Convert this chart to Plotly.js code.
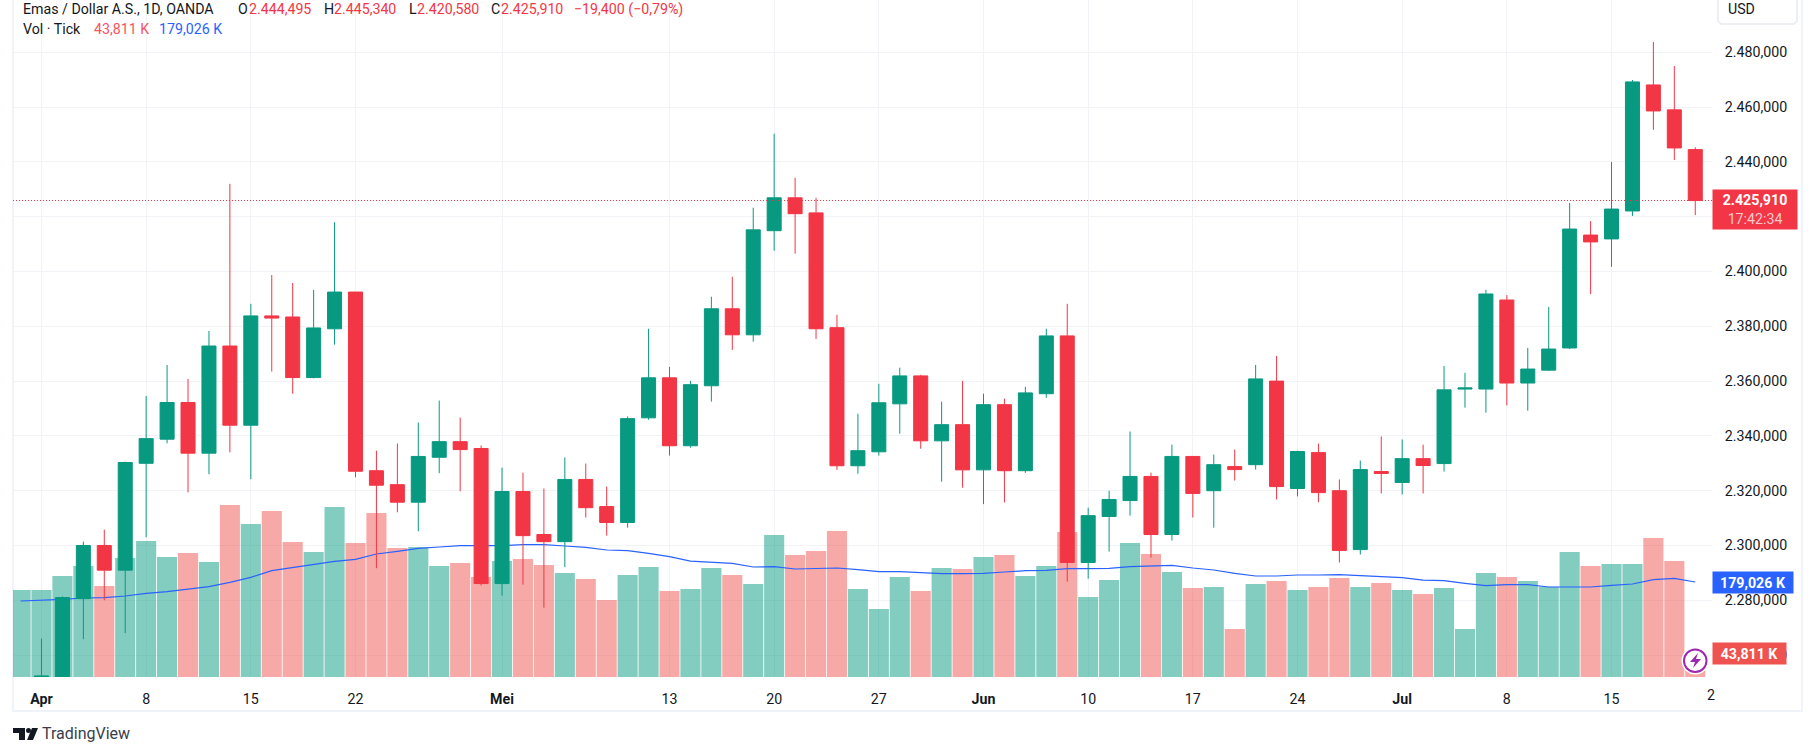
<!DOCTYPE html>
<html>
<head>
<meta charset="utf-8">
<script src="https://cdn.plot.ly/plotly-3.0.1.min.js"></script>
<style>
  html, body { margin: 0; padding: 0; background: #fff; }
  #chart { width: 1815px; height: 756px; }
</style>
</head>
<body>
<div id="chart"></div>
<script>
// one entry per trading day, the first one is the off-screen 29 Mar candle
var opens = [2212, 2232, 2250, 2280.6, 2300, 2291, 2330, 2338.8, 2352.2, 2333.7, 2372.8, 2343.9, 2383.8, 2383.4, 2361.3, 2379.1, 2392.5, 2327.3, 2322.2, 2315.8, 2332.2, 2337.9, 2335.4, 2286.1, 2319.7, 2304, 2301.4, 2324.1, 2314.2, 2308.4, 2346.6, 2361.2, 2336.4, 2358.3, 2386.4, 2376.9, 2414.9, 2426.9, 2421.4, 2379.5, 2329.1, 2334.2, 2351.7, 2361.9, 2338.2, 2344.1, 2327.6, 2351.4, 2327.3, 2355.4, 2376.5, 2293.8, 2310.6, 2316.4, 2325.2, 2304, 2332.5, 2320, 2328.8, 2329.5, 2360, 2320.8, 2333.9, 2320, 2298.5, 2327, 2323, 2331.7, 2329.9, 2357.1, 2357.1, 2389.6, 2359.3, 2364, 2372.1, 2413.3, 2411.9, 2422.1, 2468.1, 2459, 2444.495];
var highs = [2233, 2266, 2281.4, 2301.4, 2305.8, 2330.6, 2354.6, 2365.9, 2360.8, 2378.3, 2432, 2388.2, 2398.7, 2395.8, 2393.3, 2418, 2392.5, 2334.6, 2337.2, 2344.9, 2352.9, 2346.7, 2336.5, 2328.4, 2326.6, 2320.8, 2332.1, 2329.9, 2321.5, 2347.1, 2379.1, 2365.2, 2360.1, 2390.8, 2398.1, 2423.3, 2450.3, 2434.2, 2426.9, 2384.2, 2348.1, 2359, 2364.9, 2362.3, 2352.5, 2360.1, 2355.4, 2353.6, 2357.9, 2379.1, 2388.2, 2313.8, 2320, 2341.6, 2326.6, 2336.8, 2332.5, 2333.2, 2335, 2365.9, 2369.2, 2334.6, 2337.2, 2324.1, 2331, 2339.8, 2338.7, 2336.8, 2365.5, 2363, 2393.3, 2391.4, 2372.1, 2387.1, 2425, 2418.4, 2440, 2469.9, 2483.8, 2475, 2445.34];
var lows = [2208, 2228, 2245, 2265.8, 2280, 2268, 2303, 2337.3, 2319.4, 2326, 2334, 2324.2, 2363.5, 2355.4, 2361, 2373.3, 2324.9, 2291.7, 2312.1, 2305.2, 2326.4, 2319.8, 2285.4, 2281.7, 2285.7, 2277.3, 2292.1, 2310.2, 2303.6, 2306.5, 2345.9, 2332.8, 2335.7, 2352.5, 2371.4, 2374.4, 2407.6, 2406.5, 2375.4, 2327.6, 2326.2, 2332.8, 2340.8, 2335.3, 2323.3, 2321.1, 2315.1, 2315.7, 2326.5, 2353.9, 2286.8, 2287.9, 2297.8, 2310.9, 2295.6, 2301.8, 2310.2, 2306.5, 2323.7, 2327.7, 2316.8, 2317.9, 2315.8, 2293.8, 2296.7, 2319, 2318.6, 2319, 2327, 2350.3, 2348.5, 2351.1, 2349.2, 2363.7, 2371.7, 2391.8, 2401.7, 2420.3, 2451.7, 2440.7, 2420.58];
var closes = [2232, 2252.4, 2281, 2300, 2291, 2330.3, 2339, 2352.2, 2333.7, 2372.8, 2343.9, 2383.8, 2383, 2361.3, 2379.4, 2392.5, 2327.1, 2322, 2315.8, 2332.5, 2337.9, 2335, 2286.1, 2319.7, 2303.6, 2301.4, 2324.1, 2313.8, 2308.4, 2346.3, 2361.2, 2336.4, 2358.7, 2386.4, 2376.9, 2415.2, 2426.9, 2421.1, 2379.1, 2329.1, 2334.6, 2352.1, 2361.9, 2338.2, 2344.1, 2327.6, 2351.4, 2327.3, 2355.7, 2376.5, 2293.8, 2310.9, 2316.8, 2325.2, 2304, 2332.5, 2319, 2329.5, 2327.7, 2360.8, 2321.5, 2334.3, 2319.3, 2298.2, 2327.7, 2326.3, 2331.7, 2329.2, 2356.8, 2357.5, 2391.8, 2359.3, 2364.4, 2371.7, 2415.5, 2410.8, 2422.8, 2469.2, 2458.6, 2445.1, 2425.91];

// tick volume in thousands and its moving average
var volumes = [163.9, 163.9, 190.3, 209.1, 171.4, 224.2, 256.2, 226.1, 233.6, 216.7, 324, 288.3, 312.7, 254.3, 235.5, 320.3, 252.5, 309, 243, 244.9, 209.1, 214.8, 188.4, 218.5, 222.3, 211, 195.9, 184.6, 145.1, 192.2, 207.2, 162, 165.8, 205.4, 192.2, 175.2, 267.5, 229.8, 237.4, 275.1, 165.8, 128.1, 188.4, 162, 205.4, 203.5, 226.1, 229.8, 190.3, 209.1, 273.2, 150.7, 182.7, 252.5, 231.7, 197.8, 167.7, 169.6, 90.4, 175.2, 180.9, 163.9, 169.6, 186.5, 169.6, 177.1, 163.9, 156.4, 167.7, 90.4, 195.9, 188.4, 180.9, 170, 235.5, 209.1, 212.9, 212.9, 261.9, 218.5, 43.811];
var volMa = [143.2, 144.4, 146.3, 148.8, 149.5, 152.6, 157.6, 160.8, 165.8, 170.2, 178.4, 187.8, 200.3, 206.6, 212.3, 217.9, 221.7, 231.7, 236.8, 242.4, 244.9, 247.4, 247.4, 247.4, 249.3, 249.3, 246.8, 244.3, 239.3, 238, 233, 226.7, 218.5, 216.7, 214.1, 207.2, 207.9, 203.5, 204.1, 205.4, 202.2, 198.4, 198.4, 195.9, 194.7, 194.7, 195.3, 197.8, 200.3, 201, 204.1, 204.1, 204.7, 207.9, 209.8, 210.4, 205.4, 201.6, 195.3, 190.3, 190.3, 192.2, 192.2, 192.8, 190.9, 189.7, 187.1, 182.7, 181.5, 176.5, 172.1, 174, 174, 169.6, 169.6, 169.6, 172.7, 175.2, 183.4, 185.9, 179.026];

var dayIndex = opens.map(function(_, i) { return i; });
var tickDays = [1, 6, 11, 16, 23, 31, 36, 41, 46, 51, 56, 61, 66, 71, 76];
var tickNames = ['<b>Apr</b>', '8', '15', '22', '<b>Mei</b>', '13', '20', '27', '<b>Jun</b>', '10', '17', '24', '<b>Jul</b>', '8', '15'];

var UP = '#089981', DOWN = '#F23645', BLUE = '#2962FF', TEXT = '#131722', GRID = '#F2F3F7';
var FONT = 'Roboto, sans-serif';
var FONT_SIZE = 14.2;

// plot box in page pixels, used for everything drawn around the chart
var L = 13, R = 1712, T = 0, B = 677;
function px(x) { return (x - L) / (R - L); }
function py(y) { return (B - y) / (B - T); }

var volColors = opens.map(function(o, i) {
    return closes[i] >= o ? 'rgba(8,153,129,0.5)' : 'rgba(239,83,80,0.5)';
});

var traces = [
    {
        type: 'bar', x: dayIndex, y: volumes, yaxis: 'y',
        marker: { color: volColors, line: { width: 0 } },
        hoverinfo: 'skip'
    },
    {
        type: 'scatter', mode: 'lines', x: dayIndex, y: volMa, yaxis: 'y',
        line: { color: BLUE, width: 1.2 },
        hoverinfo: 'skip'
    },
    {
        type: 'candlestick', x: dayIndex, open: opens, high: highs, low: lows, close: closes, yaxis: 'y2',
        increasing: { line: { color: UP, width: 1 }, fillcolor: UP },
        decreasing: { line: { color: DOWN, width: 1 }, fillcolor: DOWN },
        whiskerwidth: 0
    }
];

function label(text, x, y, color, size) {
    return {
        xref: 'paper', yref: 'paper', x: px(x), y: py(y), xanchor: 'left', yanchor: 'middle',
        text: text, showarrow: false,
        font: { family: FONT, size: size || FONT_SIZE, color: color || TEXT }
    };
}

function tag(text, y0, y1, x1, color) {
    // coloured price / volume box sitting on the axis
    return {
        xref: 'paper', yref: 'paper', x: px(R), y: py((y0 + y1) / 2), xanchor: 'left', yanchor: 'middle',
        width: x1 - R, height: y1 - y0, bgcolor: color, borderpad: 0, align: 'center',
        text: text, showarrow: false,
        font: { family: FONT, size: FONT_SIZE, color: '#fff' }
    };
}

var lastClose = closes[closes.length - 1];

var annotations = [
    label('Emas / Dollar A.S., 1D, OANDA', 21, 9),
    label('O', 236, 9), label('2.444,495', 247, 9, DOWN),
    label('H', 322, 9), label('2.445,340', 332, 9, DOWN),
    label('L', 407, 9), label('2.420,580', 415, 9, DOWN),
    label('C', 489, 9), label('2.425,910', 499, 9, DOWN),
    label('−19,400 (−0,79%)', 572, 9, DOWN),
    label('Vol · Tick', 21, 29),
    label('43,811 K', 92, 29, '#F7525F'),
    label('179,026 K', 157, 29, BLUE),
    label('USD', 1726, 9),
    label('2', 1705, 695),
    tag('<b>2.425,910</b><br><span style="color:#fbc7cb">17:42:34</span>', 190, 229, 1796, DOWN),
    tag('<b>179,026 K</b>', 572, 593, 1792, BLUE),
    tag('<b>43,811 K</b>', 643, 664, 1785, '#EF5350'),
    label('TradingView', 40, 733, '#3a3e4a', 16)
];

function pathOf(points) {
    return 'M' + points.map(function(p) { return px(p[0]) + ',' + py(p[1]); }).join('L') + 'Z';
}

var shapes = [
    // last price line
    { type: 'line', xref: 'paper', yref: 'y2', x0: 0, x1: 1, y0: lastClose, y1: lastClose,
      line: { color: DOWN, width: 1, dash: '1px,2px' } },
    // chart frame
    { type: 'rect', xref: 'paper', yref: 'paper', x0: px(13), x1: px(1802), y0: py(711), y1: py(-6),
      line: { color: '#F0F3FA', width: 2 }, layer: 'below' },
    // USD button
    { type: 'path', xref: 'paper', yref: 'paper',
      path: pathOf([[1718, -5], [1797, -5], [1797, 21], [1794, 24], [1721, 24], [1718, 21]]),
      line: { color: '#E8EAF0', width: 1.5 }, fillcolor: '#fff' },
    // lightning badge
    { type: 'circle', xref: 'paper', yref: 'paper', x0: px(1681.5), x1: px(1709), y0: py(674.5), y1: py(647),
      line: { width: 0 }, fillcolor: '#fff' },
    { type: 'circle', xref: 'paper', yref: 'paper', x0: px(1684), x1: px(1706.5), y0: py(672), y1: py(649.5),
      line: { color: '#9C27B0', width: 2 }, fillcolor: '#fff' },
    { type: 'path', xref: 'paper', yref: 'paper',
      path: pathOf([[1698, 653], [1690, 662], [1695, 662], [1693, 668], [1701, 659], [1696, 659]]),
      line: { width: 0 }, fillcolor: '#9C27B0' },
    // TradingView logo
    { type: 'path', xref: 'paper', yref: 'paper',
      path: pathOf([[13, 728], [25, 728], [25, 740], [19, 740], [19, 733], [13, 733]]),
      line: { width: 0 }, fillcolor: TEXT },
    { type: 'circle', xref: 'paper', yref: 'paper', x0: px(26), x1: px(31), y0: py(733), y1: py(728),
      line: { width: 0 }, fillcolor: TEXT },
    { type: 'path', xref: 'paper', yref: 'paper',
      path: pathOf([[32, 728], [38, 728], [33, 740], [27, 740]]),
      line: { width: 0 }, fillcolor: TEXT }
];

var layout = {
    width: 1815,
    height: 756,
    margin: { l: L, r: 1815 - R, t: T, b: 756 - B, pad: 0 },
    paper_bgcolor: '#fff',
    plot_bgcolor: '#fff',
    showlegend: false,
    separators: ',.',
    bargap: 0.04,
    boxgap: 0.33,
    boxgroupgap: 0,
    font: { family: FONT, size: FONT_SIZE, color: TEXT },
    xaxis: {
        range: [-0.361, 80.8],
        rangeslider: { visible: false },
        tickmode: 'array', tickvals: tickDays, ticktext: tickNames,
        ticks: 'outside', ticklen: 9, tickcolor: 'rgba(0,0,0,0)',
        showgrid: true, gridcolor: GRID, gridwidth: 1,
        zeroline: false, showline: false,
        tickfont: { family: FONT, size: FONT_SIZE, color: TEXT }
    },
    yaxis: {
        range: [0, 1275.5],
        visible: false, showgrid: false, zeroline: false, fixedrange: true
    },
    yaxis2: {
        range: [2252, 2499.1],
        overlaying: 'y', side: 'right',
        tick0: 2260, dtick: 20, tickformat: ',.3f',
        ticks: 'outside', ticklen: 9, tickcolor: 'rgba(0,0,0,0)',
        showgrid: true, gridcolor: GRID, gridwidth: 1,
        zeroline: false, showline: false,
        tickfont: { family: FONT, size: FONT_SIZE, color: TEXT }
    },
    annotations: annotations,
    shapes: shapes
};

Plotly.newPlot('chart', traces, layout, { displayModeBar: false, staticPlot: true });
</script>
</body>
</html>
